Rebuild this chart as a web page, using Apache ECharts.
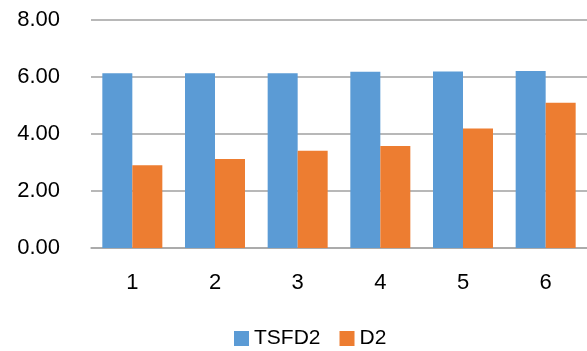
<!DOCTYPE html>
<html>
<head>
<meta charset="utf-8">
<script src="https://cdn.jsdelivr.net/npm/echarts@6/dist/echarts.min.js"></script>
<style>
  html, body { margin: 0; padding: 0; background: #fff; }
  #chart { width: 587px; height: 351px; }
</style>
</head>
<body>
<div id="chart"></div>
<script>
const categories = ["1", "2", "3", "4", "5", "6"];
const tsfd2 = [6.13, 6.13, 6.13, 6.18, 6.19, 6.21];
const d2 = [2.9, 3.12, 3.41, 3.58, 4.19, 5.1];
const seriesNames = ["TSFD2", "D2"];

const font = "Liberation Sans";
const chart = echarts.init(document.getElementById("chart"));
chart.setOption({
  animation: false,
  color: ["#5B9BD5", "#ED7D31"],
  textStyle: { fontFamily: font },
  grid: { left: 91, right: 0, top: 20, bottom: 103 },
  legend: {
    bottom: 2,
    left: 234,
    padding: 0,
    icon: "rect",
    itemWidth: 15,
    itemHeight: 15,
    itemGap: 19,
    textStyle: { fontSize: 21, color: "#000", fontFamily: font },
    data: seriesNames,
  },
  xAxis: {
    type: "category",
    data: categories,
    axisTick: { show: false },
    axisLine: { lineStyle: { color: "#a6a6a6", width: 1.5 } },
    axisLabel: { color: "#000", fontSize: 22, margin: 24 },
  },
  yAxis: {
    type: "value",
    min: 0,
    max: 8,
    interval: 2,
    axisLabel: {
      color: "#000",
      fontSize: 22,
      margin: 31,
      formatter: (v) => v.toFixed(2),
    },
    splitLine: { lineStyle: { color: "#a0a0a0", width: 1.5 } },
  },
  series: [
    {
      name: seriesNames[0],
      type: "bar",
      data: tsfd2,
      barWidth: 30,
      barGap: "0%",
    },
    {
      name: seriesNames[1],
      type: "bar",
      data: d2,
      barWidth: 30,
    },
  ],
});
</script>
</body>
</html>
